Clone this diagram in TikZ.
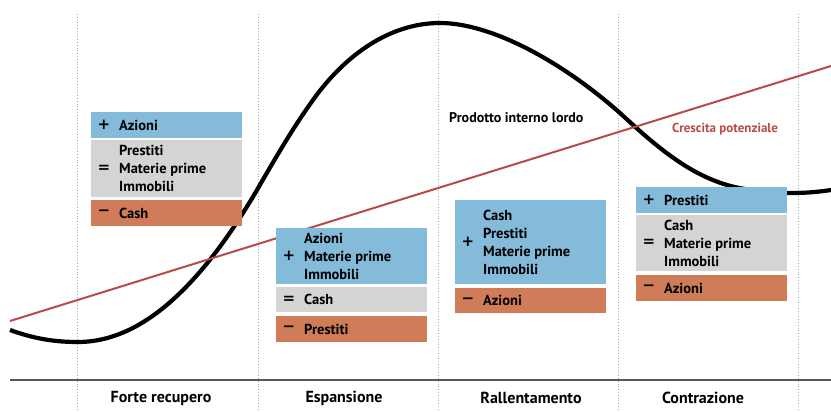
\documentclass[tikz,border=0pt]{standalone}
\usepackage{fontspec}
\setmainfont{PT Sans}
\newfontfamily\segnifont{DejaVu Sans}
\usepackage{tikz}
\definecolor{azzurro}{HTML}{85BBDA}
\definecolor{grigio}{HTML}{D4D4D4}
\definecolor{arancio}{HTML}{D07C58}
\definecolor{rosso}{HTML}{B94A48}
\definecolor{guida}{HTML}{AAAAAA}
\tikzset{
  fascia/.style={draw=none, minimum width=151, inner sep=0},
  blu/.style={fascia, fill=azzurro},
  gri/.style={fascia, fill=grigio},
  ara/.style={fascia, fill=arancio},
  segno/.style={inner sep=0, font=\segnifont\fontsize{15}{18}\selectfont\bfseries},
  voce/.style={anchor=west, align=left, inner sep=0, font=\fontsize{14.5}{18}\selectfont\bfseries},
  fase/.style={inner sep=0, font=\fontsize{16}{18}\selectfont\bfseries},
  pil/.style={line width=4.2, black},
  trend/.style={line width=2, rosso},
  griglia/.style={guida, dotted, line width=0.8}
}
% one coloured band of a box: name, style, left x, top y, bottom y, sign, text
\newcommand{\riga}[7]{%
  \node[#2, minimum height={#5-#4}] (#1) at ({#3+75.5},{(#4+#5)/2}) {};
  \node[segno] (#1s) at ({#3+13},{(#4+#5)/2}) {#6};
  \node[voce] (#1t) at ({#3+28},{(#4+#5)/2}) {#7};}
\begin{document}
\begin{tikzpicture}[x=1pt,y=-1pt]
\useasboundingbox (0,0) rectangle (831,412);
% phase separators
\foreach \xg in {77,258,438,618,798}
  \draw[griglia] (\xg,14)--(\xg,412);
\draw[line width=1.8, black!65] (10,380)--(831,380);
% GDP cycle
\draw[pil] (10,330) .. controls (35,339) and (55,342) .. (78,342)
  .. controls (150,342) and (210,270) .. (257,190)
  .. controls (280,150) and (295,125) .. (313,100)
  .. controls (345,55) and (390,23) .. (440,23)
  .. controls (490,23) and (560,60) .. (620,113)
  .. controls (660,150) and (700,185) .. (753,190)
  .. controls (780,194) and (805,194) .. (831,190);
\draw[trend] (10,321)--(831,66);
\node[voce, font=\fontsize{14}{16}\selectfont\bfseries] (lpil) at (449,118) {Prodotto interno lordo};
\node[voce, font=\fontsize{13}{16}\selectfont\bfseries, text=rosso] (ltrend) at (672,129.5) {Crescita potenziale};
% Forte recupero
\riga{a1}{blu}{91}{112}{138}{+}{Azioni}
\riga{a2}{gri}{91}{140}{197}{=}{Prestiti\\Materie prime\\Immobili}
\riga{a3}{ara}{91}{200}{226}{−}{Cash}
% Espansione
\riga{b1}{blu}{276}{228}{284}{+}{Azioni\\Materie prime\\Immobili}
\riga{b2}{gri}{276}{287}{312}{=}{Cash}
\riga{b3}{ara}{276}{316}{342}{−}{Prestiti}
% Rallentamento
\riga{c1}{blu}{455}{200}{284}{+}{Cash\\Prestiti\\Materie prime\\Immobili}
\riga{c2}{ara}{455}{288}{313}{−}{Azioni}
% Contrazione
\riga{d1}{blu}{636}{187}{213}{+}{Prestiti}
\riga{d2}{gri}{636}{215}{271}{=}{Cash\\Materie prime\\Immobili}
\riga{d3}{ara}{636}{275}{301}{−}{Azioni}
% phase names
\node[fase] (f1) at (161,398) {Forte recupero};
\node[fase] (f2) at (344,398) {Espansione};
\node[fase] (f3) at (531,398) {Rallentamento};
\node[fase] (f4) at (703,398) {Contrazione};
\end{tikzpicture}
\end{document}
